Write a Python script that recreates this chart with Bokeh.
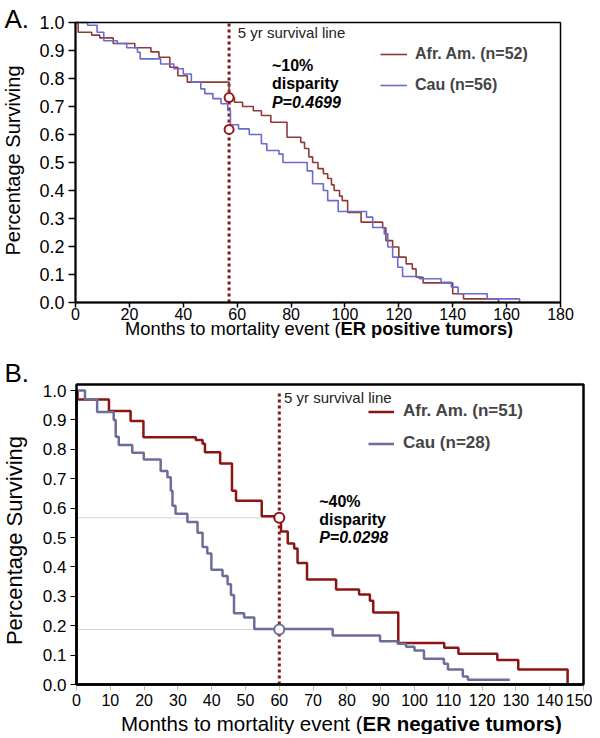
import math
from bokeh.plotting import figure
from bokeh.models import Range1d, Label, Legend, LegendItem, NumeralTickFormatter, LinearAxis, BoxAnnotation
from bokeh.layouts import column
from bokeh.embed import file_html
from bokeh.resources import INLINE

FONT = "Liberation Sans"

# ---------------- Panel A data (ER positive) ----------------
a_afr_t = [0, 1, 6, 9, 14, 22, 28, 31, 35, 38, 41.5, 57, 59, 62, 66, 69, 72.5, 78.5, 83.6, 85, 86.6, 88,
           90, 92, 93.6, 95, 96, 98, 99, 101, 106, 114, 115.2, 117.7, 120, 122.7, 125, 126.4, 129,
           140, 144, 157]
a_afr_s = [1.0, 0.965, 0.955, 0.945, 0.925, 0.91, 0.895, 0.876, 0.84, 0.81, 0.787, 0.731, 0.715, 0.70,
           0.685, 0.668, 0.644, 0.59, 0.572, 0.55, 0.52, 0.50, 0.478, 0.46, 0.443, 0.42, 0.40, 0.38,
           0.364, 0.322, 0.287, 0.267, 0.221, 0.198, 0.162, 0.138, 0.12, 0.09, 0.07, 0.031, 0.013, 0.0]
a_cau_t = [0, 4.5, 8, 10.5, 15.5, 19, 23, 24, 31.6, 36.5, 40, 43, 46.5, 48, 51, 54, 56.5, 57.5, 60.5,
           64.5, 69, 71, 75.5, 77, 86, 88, 92, 93.6, 97.5, 108, 110.3, 114.6, 115.9, 117.7, 119.6,
           121.4, 127.6, 135.7, 139.5, 142, 152.8, 164.8]
a_cau_s = [1.0, 0.99, 0.965, 0.935, 0.925, 0.91, 0.894, 0.87, 0.852, 0.835, 0.816, 0.787, 0.763, 0.746,
           0.728, 0.71, 0.686, 0.635, 0.62, 0.60, 0.567, 0.543, 0.53, 0.50, 0.47, 0.424, 0.40, 0.364,
           0.325, 0.305, 0.268, 0.245, 0.198, 0.162, 0.126, 0.093, 0.085, 0.072, 0.055, 0.031, 0.013, 0.0]
a_five_yr = 57
a_marks = [0.732, 0.618]
a_x_ticks = [0, 20, 40, 60, 80, 100, 120, 140, 160, 180]
a_x_max = 180

# ---------------- Panel B data (ER negative) ----------------
b_afr_t = [0, 0.3, 9.6, 16, 19.8, 35.3, 37.3, 38, 42.5, 46, 47.2, 54.8, 60.5, 62.5, 64.4, 65.4, 68.2,
           76.8, 83.6, 86.8, 87.8, 95.2, 108.8, 113, 124.5, 130.7, 145.3]
b_afr_s = [1.0, 0.969, 0.93, 0.896, 0.841, 0.832, 0.819, 0.79, 0.752, 0.659, 0.625, 0.572, 0.52, 0.48,
           0.463, 0.413, 0.357, 0.323, 0.306, 0.285, 0.245, 0.141, 0.125, 0.105, 0.083, 0.051, 0.0]
b_cau_t = [0, 2.5, 6.1, 11, 11.6, 12.5, 16.5, 19.9, 24.9, 26.9, 27.9, 28.4, 29.3, 32.8, 35.8, 37.3,
           38.7, 39.9, 43.2, 44.7, 45.7, 46.6, 49.6, 52.6, 75.8, 89.8, 95, 97.5, 100, 102.8, 108.7,
           109.9, 114.3, 115.8, 128.2]
b_cau_s = [1.0, 0.97, 0.927, 0.90, 0.843, 0.815, 0.788, 0.765, 0.726, 0.705, 0.659, 0.608, 0.581, 0.553,
           0.516, 0.468, 0.446, 0.39, 0.369, 0.341, 0.304, 0.242, 0.228, 0.189, 0.167, 0.147, 0.139,
           0.128, 0.116, 0.088, 0.071, 0.051, 0.027, 0.016, 0.016]
b_five_yr = 60
b_marks = [0.567, 0.187]
b_x_ticks = [0, 10, 20, 30, 40, 50, 60, 70, 80, 90, 100, 110, 120, 130, 140, 150]
b_x_max = 150

y_ticks = [0.0, 0.1, 0.2, 0.3, 0.4, 0.5, 0.6, 0.7, 0.8, 0.9, 1.0]

# colours
A_AFR = "#8e3b38"
A_CAU = "#6a6ad2"
B_AFR = "#8c1414"
B_CAU = "#6d6d9c"
DOT_RED = "#8b1414"


class Geo:
    """pixel geometry of a panel: data area placed inside a full-canvas frame"""
    def __init__(self, W, H, left, right, top, bottom, xmax, ymax):
        self.W, self.H = W, H
        self.left, self.top, self.bottom = left, top, bottom
        self.sx = (right - left) / xmax
        self.sy = (bottom - top) / ymax

    def x(self, px):
        return (px - self.left) / self.sx

    def y(self, py):
        return (self.bottom - py) / self.sy


def make_fig(g):
    p = figure(width=g.W, height=g.H, output_backend="svg", toolbar_location=None,
               x_axis_type=None, y_axis_type=None,
               x_range=Range1d(g.x(0), g.x(g.W)), y_range=Range1d(g.y(g.H), g.y(0)),
               min_border=0)
    p.outline_line_color = None
    p.grid.visible = False
    p.background_fill_color = "white"
    p.border_fill_color = "white"
    return p


def style_axis(ax, fs, lw, tick_color="black", tick_w=1.5, tick_out=7, standoff=4):
    ax.major_label_text_font = FONT
    ax.major_label_text_font_size = fs
    ax.major_label_text_color = "black"
    ax.axis_line_color = "black"
    ax.axis_line_width = lw
    ax.minor_tick_line_color = None
    ax.major_tick_in = 0
    ax.major_tick_out = tick_out
    ax.major_tick_line_color = tick_color
    ax.major_tick_line_width = tick_w
    ax.major_label_standoff = standoff


def text(p, x, y, s, fs, style="normal", align="left", angle=0.0, color="black"):
    p.add_layout(Label(x=x, y=y, text=s, text_font=FONT, text_font_size=fs, text_font_style=style,
                       text_align=align, text_baseline="middle", angle=angle, text_color=color))


# ====================== Panel A ======================
gA = Geo(592, 338, left=75, right=560, top=22, bottom=302, xmax=a_x_max, ymax=1.0)
pa = make_fig(gA)

xa = LinearAxis(fixed_location=0, bounds=(0, a_x_max), ticker=a_x_ticks)
style_axis(xa, "16px", 2, tick_out=5, standoff=0)
pa.add_layout(xa, "below")
ya = LinearAxis(fixed_location=0, bounds=(0, 1.0), ticker=y_ticks, formatter=NumeralTickFormatter(format="0.0"))
style_axis(ya, "18px", 2, tick_out=7, standoff=4)
pa.add_layout(ya, "left")
pa.add_layout(BoxAnnotation(left=0, right=a_x_max, bottom=0, top=1.0, fill_alpha=0,
                            line_color="black", line_alpha=1.0, line_width=1.5))

pa.segment(x0=[a_five_yr], y0=[0], x1=[a_five_yr], y1=[1.0], line_color=DOT_RED,
           line_width=3, line_dash="3 3")
ra1 = pa.step(a_afr_t, a_afr_s, mode="after", line_color=A_AFR, line_width=1.6)
ra2 = pa.step(a_cau_t, a_cau_s, mode="after", line_color=A_CAU, line_width=1.6)
pa.scatter([a_five_yr, a_five_yr], a_marks, size=9, marker="circle", fill_color="white",
           line_color="#9a1a1a", line_width=2)

leg_a = Legend(items=[LegendItem(label="Afr. Am. (n=52)", renderers=[ra1]),
                      LegendItem(label="Cau (n=56)", renderers=[ra2])],
               location=(380, gA.H - 94), padding=0, margin=0, spacing=13,
               glyph_width=27, glyph_height=16, label_height=16, label_standoff=8,
               label_text_font=FONT, label_text_font_size="16px", label_text_font_style="bold",
               border_line_alpha=0, background_fill_alpha=0)
pa.add_layout(leg_a)

text(pa, 60.2, 0.965, "5 yr survival line", "15px", color="#222222")
text(pa, 72.9, 0.846, "~10%", "16px", "bold")
text(pa, 72.9, 0.782, "disparity", "16px", "bold")
text(pa, 72.9, 0.714, "P=0.4699", "16px", "bold italic")

ya_lab = gA.y(328)
xa_join = gA.x(340)
text(pa, xa_join, ya_lab, "Months to mortality event (", "18.3px", align="right")
text(pa, xa_join, ya_lab, "ER positive tumors)", "18.3px", "bold")
text(pa, gA.x(12), gA.y(160), "Percentage Surviving", "20px", align="center", angle=math.pi / 2)
text(pa, gA.x(4), gA.y(18), "A.", "26px")

# ====================== Panel B ======================
gB = Geo(592, 396, left=76, right=583, top=52, bottom=346, xmax=b_x_max, ymax=1.0)
pb = make_fig(gB)
b_top = gB.y(46)

xb = LinearAxis(fixed_location=0, bounds=(0, b_x_max), ticker=b_x_ticks)
style_axis(xb, "16px", 2.5, tick_color="#bbbbbb", tick_w=1, tick_out=6, standoff=3)
pb.add_layout(xb, "below")
yb = LinearAxis(fixed_location=0, bounds=(0, 1.0), ticker=y_ticks, formatter=NumeralTickFormatter(format="0.0"))
style_axis(yb, "17px", 2.5, tick_w=1, tick_out=6)
pb.add_layout(yb, "left")
pb.add_layout(BoxAnnotation(left=0, right=b_x_max, bottom=0, top=b_top, fill_alpha=0,
                            line_color="black", line_alpha=1.0, line_width=2.5))

pb.segment(x0=[0, 0], y0=b_marks, x1=[b_five_yr, b_five_yr], y1=b_marks,
           line_color="#a8a8a8", line_width=1, line_dash="1 1")
pb.segment(x0=[b_five_yr], y0=[0], x1=[b_five_yr], y1=[1.0], line_color=DOT_RED,
           line_width=3, line_dash="3 3")
rb1 = pb.step(b_afr_t, b_afr_s, mode="after", line_color=B_AFR, line_width=2.5)
rb2 = pb.step(b_cau_t, b_cau_s, mode="after", line_color=B_CAU, line_width=2.5)
pb.scatter([b_five_yr, b_five_yr], b_marks, size=10, marker="circle", fill_color="white",
           line_color=[B_AFR, B_CAU], line_width=2)

leg_b = Legend(items=[LegendItem(label="Afr. Am. (n=51)", renderers=[rb1]),
                      LegendItem(label="Cau (n=28)", renderers=[rb2])],
               location=(368, 281), padding=0, margin=0, spacing=12,
               glyph_width=26, glyph_height=17, label_height=17, label_standoff=9,
               label_text_font=FONT, label_text_font_size="17px", label_text_font_style="bold",
               border_line_alpha=0, background_fill_alpha=0)
pb.add_layout(leg_b)

text(pb, 61.4, 0.976, "5 yr survival line", "15px", color="#222222")
text(pb, 71.8, 0.624, "~40%", "16px", "bold")
text(pb, 71.8, 0.56, "disparity", "16px", "bold")
text(pb, 71.8, 0.50, "P=0.0298", "16px", "bold italic")

yb_lab = gB.y(385)
xb_join = gB.x(362)
text(pb, xb_join, yb_lab, "Months to mortality event (", "20.5px", align="right")
text(pb, xb_join, yb_lab, "ER negative tumors)", "20.5px", "bold")
text(pb, gB.x(14), gB.y(202), "Percentage Surviving", "22px", align="center", angle=math.pi / 2)
text(pb, gB.x(4), gB.y(34), "B.", "26px")

layout = column(pa, pb, spacing=0)
open("out.html", "w").write(file_html(layout, INLINE))
